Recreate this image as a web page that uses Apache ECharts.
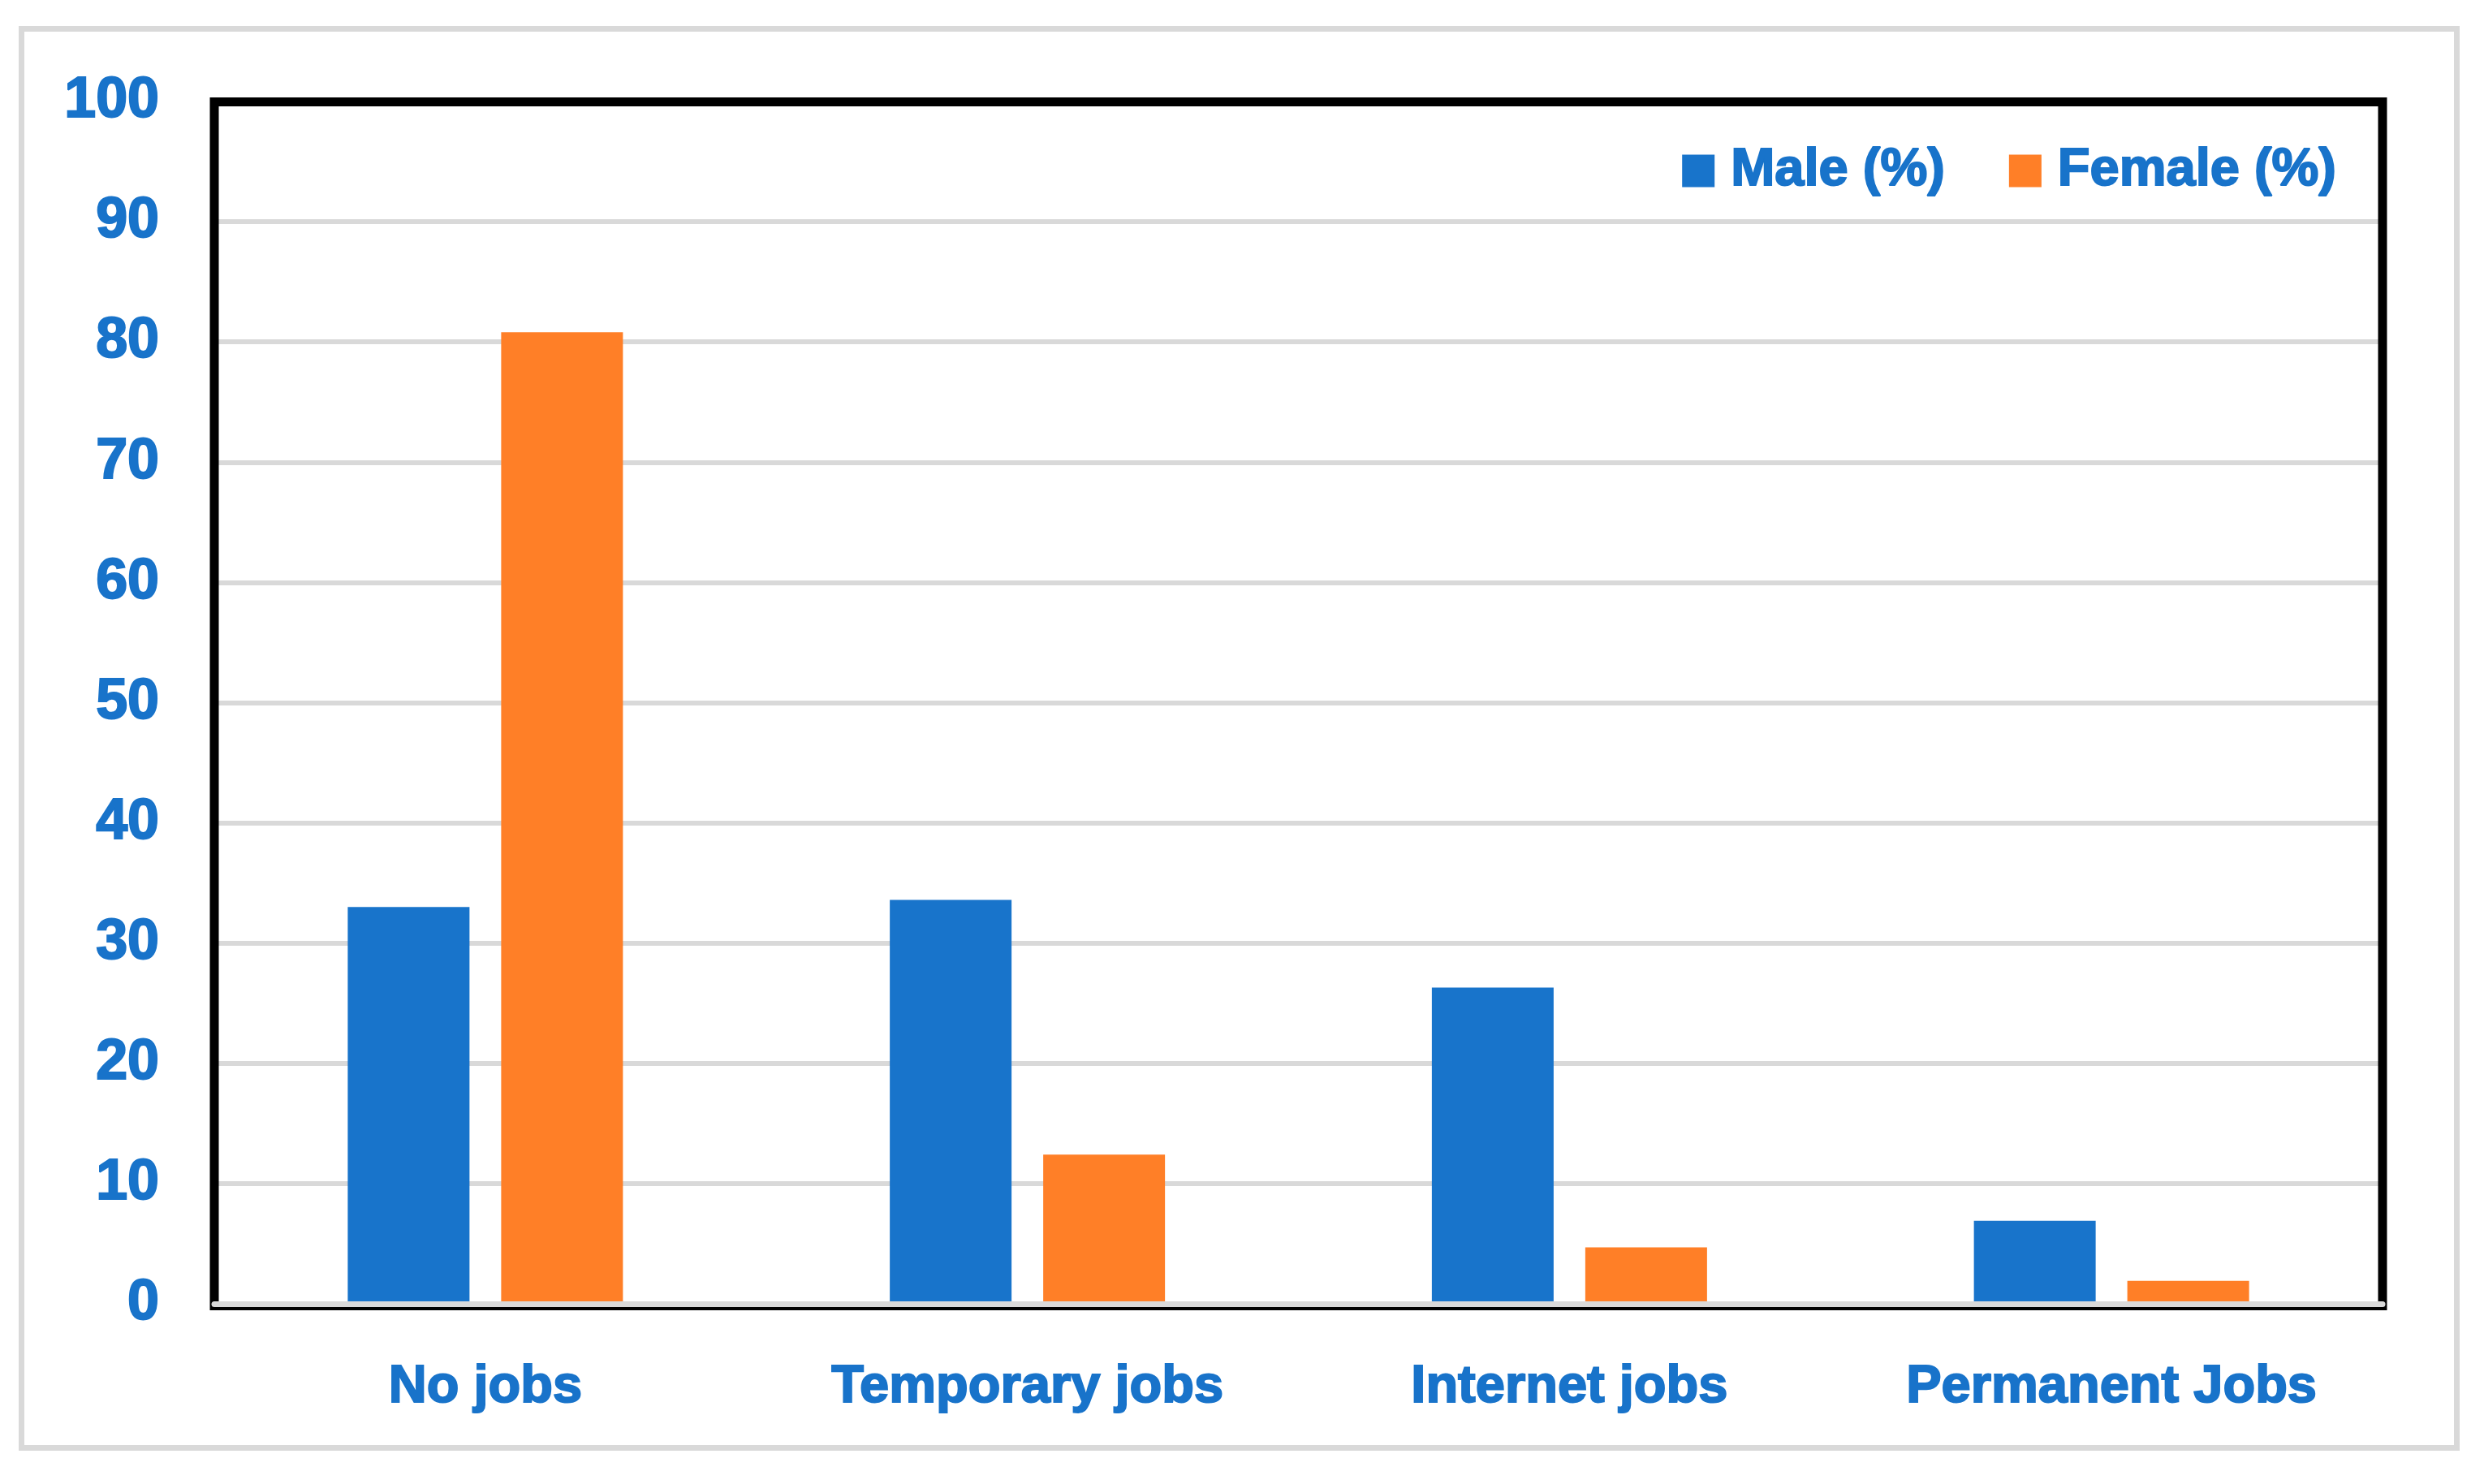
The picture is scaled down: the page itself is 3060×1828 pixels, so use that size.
<!DOCTYPE html>
<html>
<head>
<meta charset="utf-8">
<script src="https://cdn.jsdelivr.net/npm/echarts@6/dist/echarts.min.js"></script>
<style>
html,body{margin:0;padding:0;background:#fff;}
#chart{width:3060px;height:1828px;}
</style>
</head>
<body>
<div id="chart"></div>
<script>
const categories = ['No jobs', 'Temporary jobs', 'Internet jobs', 'Permanent Jobs'];
const maleValues = [33.0, 33.6, 26.3, 6.9];
const femaleValues = [80.8, 12.4, 4.7, 1.9];
const seriesNames = ['Male (%)', 'Female (%)'];

const FONT = "'Liberation Sans', Arial, sans-serif";
const TEXT_BLUE = '#1873CA';
const BLUE = '#1874CB';
const ORANGE = '#FF7F27';
const GRID = {left: 264, right: 125, top: 125, bottom: 222};
const W = 3060, H = 1828;
const heavy = {fontWeight: 'bold', fontFamily: FONT, color: TEXT_BLUE, textBorderColor: TEXT_BLUE, textBorderWidth: 2};

const chart = echarts.init(document.getElementById('chart'), null, {renderer: 'canvas'});
chart.setOption({
  backgroundColor: '#ffffff',
  animation: false,
  grid: {left: GRID.left, right: GRID.right, top: GRID.top, bottom: GRID.bottom, show: false},
  legend: {
    right: 176, top: 172,
    itemWidth: 40, itemHeight: 40, itemGap: 78,
    icon: 'rect',
    textStyle: Object.assign({fontSize: 65, padding: [0, 0, 0, 15]}, heavy),
    data: seriesNames
  },
  xAxis: {
    type: 'category',
    data: categories,
    z: 3,
    axisLine: {show: true, lineStyle: {color: '#D9D9D9', width: 7}},
    axisTick: {show: false},
    axisLabel: Object.assign({interval: 0, fontSize: 65, margin: 71}, heavy)
  },
  yAxis: {
    type: 'value',
    min: 0, max: 100, interval: 10,
    axisLine: {show: false},
    axisTick: {show: false},
    splitLine: {show: true, showMaxLine: false, lineStyle: {color: '#D9D9D9', width: 6}},
    axisLabel: Object.assign({fontSize: 70, margin: 68}, heavy)
  },
  series: [
    {name: seriesNames[0], type: 'bar', data: maleValues, barWidth: 150, barGap: '26%', itemStyle: {color: BLUE}, z: 2},
    {name: seriesNames[1], type: 'bar', data: femaleValues, barWidth: 150, barGap: '26%', itemStyle: {color: ORANGE}, z: 2}
  ],
  graphic: [
    {type: 'rect', z: 1, silent: true,
     shape: {x: 26.5, y: 35.5, width: 3000, height: 1748},
     style: {fill: null, stroke: '#D9D9D9', lineWidth: 7}},
    {type: 'rect', z: 1, silent: true,
     shape: {x: GRID.left, y: GRID.top + 0.5, width: W - GRID.left - GRID.right, height: H - GRID.top - GRID.bottom + 2},
     style: {fill: null, stroke: '#000000', lineWidth: 11}}
  ]
});
</script>
</body>
</html>
